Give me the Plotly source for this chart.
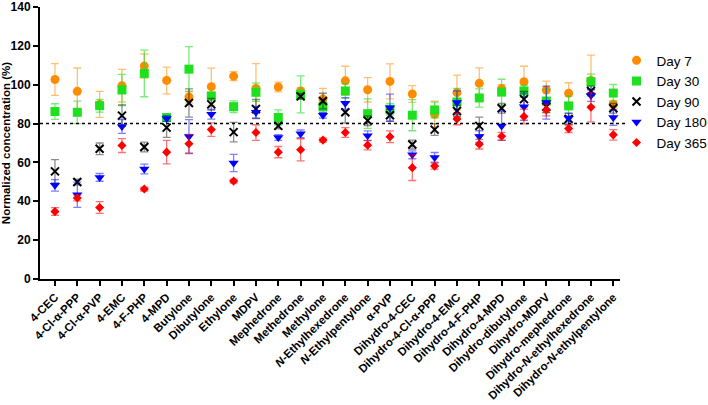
import plotly.graph_objects as go

categories = ["4-CEC", "4-Cl-α-PPP", "4-Cl-α-PVP", "4-EMC", "4-F-PHP", "4-MPD",
              "Butylone", "Dibutylone", "Ethylone", "MDPV", "Mephedrone", "Methedrone",
              "Methylone", "<i>N</i>-Ethylhexedrone", "<i>N</i>-Ethylpentylone", "α-PVP",
              "Dihydro-4-CEC", "Dihydro-4-Cl-α-PPP", "Dihydro-4-EMC", "Dihydro-4-F-PHP",
              "Dihydro-4-MPD", "Dihydro-dibutylone", "Dihydro-MDPV", "Dihydro-mephedrone",
              "Dihydro-<i>N</i>-ethylhexedrone", "Dihydro-<i>N</i>-ethylpentylone"]

day7 = [102.7, 96.6, 89.9, 99.5, 109.6, 102.2, 93.7, 99.0, 104.4, 98.1, 98.8, 96.8,
        92.6, 102.0, 97.4, 101.7, 95.2, 84.8, 95.9, 100.7, 98.0, 101.5, 97.3, 95.6, 102.2, 89.9]
day7_err = [8.2, 12.0, 6.7, 8.4, 6.2, 6.9, 3.0, 9.5, 2.3, 12.8, 2.5, 1.5,
            5.5, 7.5, 6.3, 9.0, 4.3, 6.8, 9.0, 8.0, 2.0, 8.0, 4.5, 5.4, 13.0, 2.0]

day30 = [86.2, 85.8, 89.2, 97.3, 105.8, 83.1, 108.0, 94.2, 88.7, 96.1, 83.1, 95.0,
         88.7, 96.8, 85.1, 87.4, 84.3, 87.0, 91.1, 93.2, 96.2, 96.8, 91.6, 89.1, 101.5, 95.7]
day30_err = [4.0, 5.8, 3.3, 8.0, 12.0, 1.5, 11.6, 2.0, 3.0, 4.7, 3.9, 9.5,
             3.0, 3.8, 7.6, 3.0, 8.0, 4.0, 7.0, 4.7, 6.6, 3.0, 6.0, 5.0, 4.0, 4.4]

day90 = [55.4, 49.9, 67.0, 84.1, 67.9, 77.9, 90.6, 89.9, 75.6, 87.5, 78.8, 94.0,
         91.6, 85.8, 81.5, 84.3, 69.2, 76.9, 86.5, 78.8, 87.9, 92.6, 88.7, 82.4, 96.8, 87.9]
day90_err = [6.0, 1.5, 3.0, 5.5, 2.5, 5.0, 7.3, 3.0, 5.0, 4.9, 1.5, 1.5,
             4.0, 5.5, 2.5, 3.0, 2.3, 3.0, 3.0, 4.5, 2.5, 4.0, 3.0, 3.0, 2.5, 2.5]

day180 = [48.2, 43.4, 52.3, 78.5, 56.6, 82.6, 73.3, 84.8, 59.7, 85.8, 72.8, 74.7,
          84.3, 90.4, 73.7, 88.2, 63.9, 62.6, 90.8, 73.3, 78.8, 88.7, 90.8, 82.7, 94.4, 83.1]
day180_err = [3.0, 6.5, 2.0, 3.5, 2.5, 1.5, 8.7, 2.5, 4.4, 3.0, 1.5, 2.0,
              1.5, 3.0, 2.5, 7.0, 2.0, 2.5, 6.0, 3.0, 7.5, 7.0, 8.5, 2.5, 3.0, 4.0]

day365 = [34.7, 41.7, 36.8, 68.7, 46.3, 65.3, 69.6, 76.9, 50.4, 75.4, 65.3, 66.5,
          71.5, 75.4, 68.9, 73.2, 57.3, 58.1, 82.4, 69.4, 73.5, 83.6, 87.0, 77.4, 88.4, 74.2]
day365_err = [2.0, 1.5, 3.0, 3.6, 1.0, 6.0, 4.8, 3.5, 1.0, 4.0, 2.9, 5.7,
              1.0, 2.5, 2.4, 3.0, 6.6, 1.5, 3.0, 2.5, 2.0, 3.8, 3.0, 2.0, 7.5, 2.7]

series = [
    ("Day 7", day7, day7_err, "#FF8C00", "rgba(255,140,0,0.55)", "circle", 9),
    ("Day 30", day30, day30_err, "#1EE01E", "rgba(30,224,30,0.6)", "square", 9),
    ("Day 90", day90, day90_err, "#000000", "rgba(0,0,0,0.45)", "x-thin", 8),
    ("Day 180", day180, day180_err, "#0000FF", "rgba(0,0,255,0.5)", "triangle-down", 9),
    ("Day 365", day365, day365_err, "#FF0000", "rgba(255,0,0,0.55)", "diamond", 7),
]

fig = go.Figure()
for name, vals, errs, col, ecol, sym, sz in series:
    line = dict(color=col, width=2) if sym == "x-thin" else dict(width=0)
    fig.add_trace(go.Scatter(
        x=categories, y=vals, name=name, mode="markers",
        marker=dict(color=col, symbol=sym, size=sz, line=line),
        error_y=dict(type="data", array=errs, visible=True, color=ecol,
                     thickness=1.3, width=4),
    ))

fig.add_shape(type="line", xref="paper", yref="y", x0=0, x1=1.014, y0=80, y1=80,
              line=dict(color="black", width=1.5, dash="dot"))

font_family = "Arial, Liberation Sans, sans-serif"
fig.update_layout(
    width=708, height=405,
    margin=dict(l=40, r=88, t=7, b=126, autoexpand=False),
    paper_bgcolor="white", plot_bgcolor="white",
    font=dict(family=font_family, color="black"),
    showlegend=True,
    legend=dict(x=0.994, y=0.86, xanchor="left", yanchor="top",
                font=dict(size=13.5, family=font_family),
                bgcolor="rgba(0,0,0,0)", itemsizing="trace",
                tracegroupgap=0),
    xaxis=dict(
        type="category", range=[-0.67, 25.3], automargin=False,
        showline=True, linecolor="black", linewidth=2,
        ticks="outside", ticklen=5, tickwidth=1.5, tickcolor="black",
        tickangle=-45, showgrid=False, zeroline=False,
        ticklabeloverflow="allow",
        tickfont=dict(size=11.5, family=font_family, weight="bold"),
    ),
    yaxis=dict(
        range=[0, 140], dtick=20, automargin=False,
        showline=True, linecolor="black", linewidth=2,
        ticks="outside", ticklen=5, tickwidth=1.5, tickcolor="black",
        showgrid=False, zeroline=False,
        ticklabeloverflow="allow",
        tickfont=dict(size=12, family=font_family, weight="bold"),
        title=dict(text="Normalized concentration (%)", standoff=2,
                   font=dict(size=11.5, family=font_family, weight="bold")),
    ),
)

fig.write_html("out.html", config={"displayModeBar": False},
               post_script="document.body.style.margin='0';document.body.style.overflow='hidden';")
